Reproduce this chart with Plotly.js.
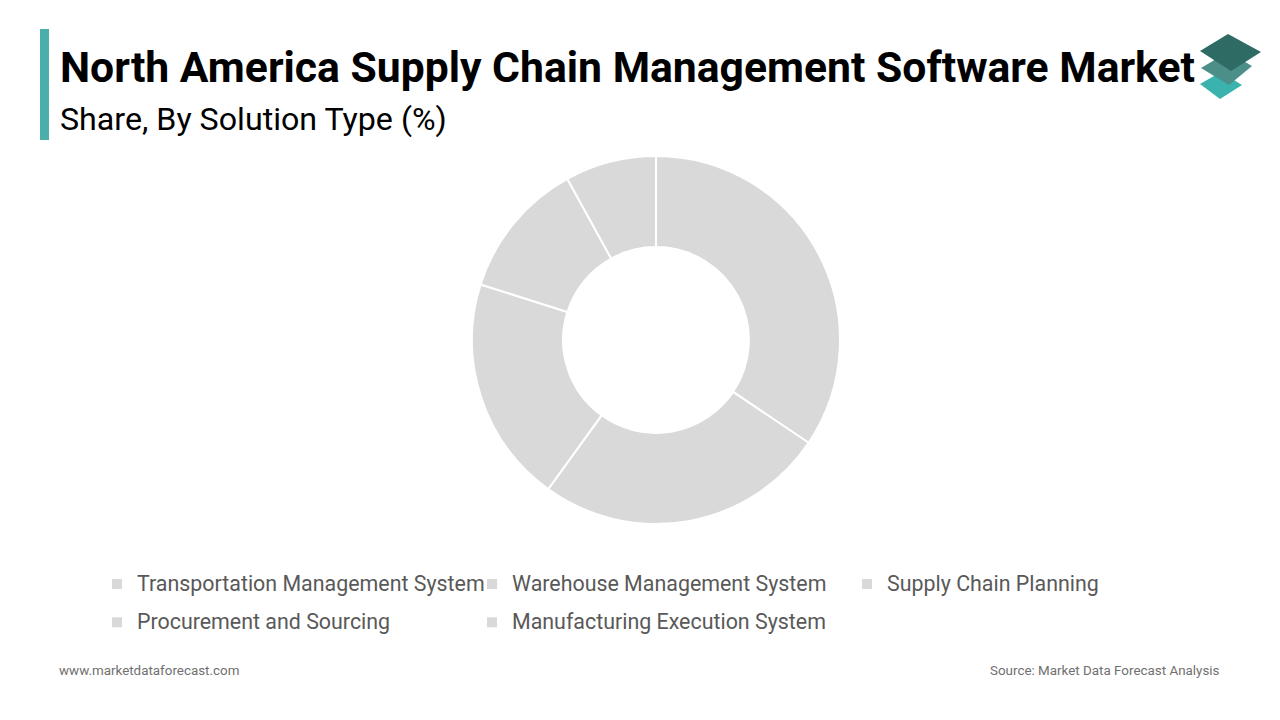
<!DOCTYPE html>
<html>
<head>
<meta charset="utf-8">
<script src="https://cdn.plot.ly/plotly-3.0.1.min.js"></script>
<style>html,body{margin:0;padding:0;background:#fff;}#chart{width:1280px;height:720px;}</style>
</head>
<body>
<div id="chart"></div>
<script>
const categories = [
  "Transportation Management System",
  "Warehouse Management System",
  "Supply Chain Planning",
  "Procurement and Sourcing",
  "Manufacturing Execution System"
];
const shares = [34.4, 25.5, 19.9, 12.1, 8.0];
const sliceColors = ["#d9d9d9", "#d9d9d9", "#d9d9d9", "#d9d9d9", "#d9d9d9"];

const W = 1280, H = 720;
const px = x => x / W;
const py = y => 1 - y / H;
function poly(pts) {
  return "M " + pts.map(p => px(p[0]) + "," + py(p[1])).join(" L ") + " Z";
}

const trace = {
  type: "pie",
  labels: categories.map(c => '<span style="font-size:21.4px;baseline-shift:4px">' + c + '</span>'),
  values: shares,
  hole: 0.505,
  sort: false,
  direction: "clockwise",
  rotation: 0,
  textinfo: "none",
  hoverinfo: "label+percent",
  marker: { colors: sliceColors, line: { color: "#ffffff", width: 2 } },
  domain: { x: [px(472), px(840)], y: [py(524), py(156)] }
};

const layout = {
  width: W, height: H,
  margin: { l: 0, r: 0, t: 0, b: 0 },
  paper_bgcolor: "#ffffff",
  font: { family: "Roboto, sans-serif" },
  showlegend: true,
  legend: {
    orientation: "h",
    x: px(97), y: py(560), xanchor: "left", yanchor: "top",
    entrywidth: 330, entrywidthmode: "pixels",
    font: { family: "Roboto, sans-serif", size: 27, color: "#595959" },
    itemwidth: 30,
    tracegroupgap: 0
  },
  shapes: [
    { type: "rect", xref: "paper", yref: "paper", x0: px(40), x1: px(49), y0: py(140), y1: py(29), fillcolor: "#4aafaa", line: { width: 0 } },
    { type: "path", xref: "paper", yref: "paper", path: poly([[1200,84],[1221,72],[1242,85],[1220,99]]), fillcolor: "#3ab3ae", line: { width: 0 } },
    { type: "path", xref: "paper", yref: "paper", path: poly([[1201,68],[1228,52],[1252,66],[1229,85]]), fillcolor: "#4b8f88", line: { width: 0 } },
    { type: "path", xref: "paper", yref: "paper", path: poly([[1200,51],[1228,34],[1261,52],[1231,71]]), fillcolor: "#2e6b64", line: { width: 0 } }
  ],
  annotations: [
    { text: "<b>North America Supply Chain Management Software Market</b>", xref: "paper", yref: "paper", x: px(58), y: py(67), xanchor: "left", yanchor: "middle", showarrow: false, font: { family: "Roboto, sans-serif", size: 42.7, color: "#000000" } },
    { text: "Share, By Solution Type (%)", xref: "paper", yref: "paper", x: px(58), y: py(119), xanchor: "left", yanchor: "middle", showarrow: false, font: { family: "Roboto, sans-serif", size: 32.2, color: "#000000" } },
    { text: "www.marketdataforecast.com", xref: "paper", yref: "paper", x: px(57), y: py(670), xanchor: "left", yanchor: "middle", showarrow: false, font: { family: "Roboto, sans-serif", size: 13.4, color: "#707070" } },
    { text: "Source: Market Data Forecast Analysis", xref: "paper", yref: "paper", x: px(1222), y: py(670), xanchor: "right", yanchor: "middle", showarrow: false, font: { family: "Roboto, sans-serif", size: 13.4, color: "#707070" } }
  ]
};

Plotly.newPlot("chart", [trace], layout, { displayModeBar: false, staticPlot: true });
</script>
</body>
</html>
